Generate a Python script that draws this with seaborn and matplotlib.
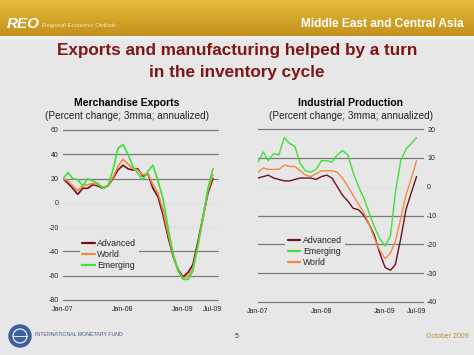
import pandas as pd
import numpy as np
import seaborn as sns
import matplotlib.pyplot as plt
from matplotlib.patches import Circle

# Monthly data, Jan-07 to Jul-09
months = pd.date_range('2007-01-01', '2009-07-01', freq='MS')

# Merchandise exports (percent change; 3mma; annualized)
exp_advanced = [20, 16, 12, 7, 12, 12, 15, 14, 12, 14, 20, 27, 31, 28, 27, 28, 22, 24,
                12, 5, -10, -28, -44, -55, -61, -57, -51, -32, -12, 8, 20]
exp_world = [20, 18, 14, 10, 14, 15, 16, 15, 13, 14, 21, 30, 36, 32, 28, 27, 23, 24,
             15, 8, -6, -25, -43, -56, -62, -60, -54, -35, -14, 10, 23]
exp_emerging = [20, 25, 20, 19, 14, 20, 18, 16, 12, 14, 27, 45, 48, 40, 30, 24, 19, 26,
                31, 18, 3, -20, -42, -56, -63, -63, -56, -35, -12, 12, 28]

# Industrial production (percent change; 3mma; annualized)
ip_advanced = [3, 3.5, 4, 3, 2.5, 2, 2, 2.5, 3, 3, 3, 2.5, 3.5, 4, 3, 0, -3, -5, -7.5,
               -8, -10, -13, -17, -23, -28, -29, -27, -18, -8, -2, 3.5]
ip_world = [5, 6.5, 6, 6, 6, 7.5, 7, 7, 5.5, 4, 3.5, 4.5, 5.5, 5.5, 5.5, 5, 3, 0, -3,
            -6, -9, -13, -18, -22, -25, -23, -19, -11, -3, 3, 9]
ip_emerging = [8.5, 12, 9, 11.5, 11, 17, 15, 14, 8, 5.5, 5, 6, 9, 9, 8.5, 11, 12.5, 11,
               5, 0, -4, -9, -14, -18, -20.5, -17, -2, 9, 13, 15, 17]

exp_ticks = [60, 40, 20, 0, -20, -40, -60, -80]
ip_ticks = [20, 10, 0, -10, -20, -30, -40]
x_tick_dates = ['2007-01-01', '2008-01-01', '2009-01-01', '2009-07-01']
x_tick_labels = ['Jan-07', 'Jan-08', 'Jan-09', 'Jul-09']

colors = {'Advanced': '#6e1020', 'World': '#f28a45', 'Emerging': '#3fe03a'}

exports = pd.DataFrame({'date': np.tile(months, 3),
                        'value': exp_advanced + exp_world + exp_emerging,
                        'series': ['Advanced'] * 31 + ['World'] * 31 + ['Emerging'] * 31})
prod = pd.DataFrame({'date': np.tile(months, 3),
                     'value': ip_advanced + ip_emerging + ip_world,
                     'series': ['Advanced'] * 31 + ['Emerging'] * 31 + ['World'] * 31})

sns.set_theme(style='white')
plt.rcParams['font.family'] = ['Liberation Sans', 'DejaVu Sans']
plt.rcParams['axes.unicode_minus'] = False

W, H = 474, 355
fig = plt.figure(figsize=(W / 100, H / 100), dpi=100)
fig.patch.set_facecolor('#e7e7e7')
bg = '#e7e7e7'


def px_axes(x0, y0, x1, y1):
    return fig.add_axes([x0 / W, 1 - y1 / H, (x1 - x0) / W, (y1 - y0) / H])


# header band
hdr = px_axes(0, 0, W, 36)
grad = np.linspace(0, 1, 50).reshape(-1, 1)
hdr.imshow(grad, aspect='auto', extent=[0, 1, 0, 1],
           cmap=sns.blend_palette(['#e4bd3e', '#d4a62a', '#c4911e'], as_cmap=True))
hdr.set_axis_off()
lite = px_axes(0, 36, W, 42)
lite.imshow(grad, aspect='auto', extent=[0, 1, 0, 1],
            cmap=sns.blend_palette(['#f2f2f2', '#e7e7e7'], as_cmap=True))
lite.set_axis_off()

fig.text(7 / W, 1 - 24 / H, 'REO', color='white', fontsize=11, fontweight='bold',
         fontstyle='italic', va='center')
fig.text(42 / W, 1 - 26 / H, 'Regional Economic Outlook', color='#f6e7b8', fontsize=4.3,
         va='center')
fig.text(464 / W, 1 - 24 / H, 'Middle East and Central Asia', color='white', fontsize=8.6,
         fontweight='bold', ha='right', va='center')

# title
fig.text(0.5, 1 - 50 / H, 'Exports and manufacturing helped by a turn', color='#801515',
         fontsize=12.3, fontweight='bold', ha='center', va='center')
fig.text(0.5, 1 - 72 / H, 'in the inventory cycle', color='#801515',
         fontsize=12.3, fontweight='bold', ha='center', va='center')

fig.text(127 / W, 1 - 103 / H, 'Merchandise Exports', fontsize=7.5, fontweight='bold',
         ha='center', va='center', color='black')
fig.text(127 / W, 1 - 116 / H, '(Percent change; 3mma; annualized)', fontsize=7.2,
         ha='center', va='center', color='#222222')
fig.text(351 / W, 1 - 103 / H, 'Industrial Production', fontsize=7.5, fontweight='bold',
         ha='center', va='center', color='black')
fig.text(351 / W, 1 - 116 / H, '(Percent change; 3mma; annualized)', fontsize=7.2,
         ha='center', va='center', color='#222222')


def style_axes(ax, ticks, faint, side):
    ax.set_facecolor(bg)
    for t in ticks:
        c = '#e2e2e2' if t in faint else '#7a7a7a'
        ax.axhline(t, color=c, lw=0.9, zorder=0, clip_on=False)
    for s in ax.spines.values():
        s.set_visible(False)
    ax.set_yticks(ticks)
    ax.set_xticks(pd.to_datetime(x_tick_dates))
    ax.set_xticklabels(x_tick_labels)
    ax.tick_params(axis='both', length=0, labelsize=5, colors='#222222')
    ax.tick_params(axis='x', pad=4.5)
    ax.tick_params(axis='y', pad=3)
    if side == 'right':
        ax.yaxis.tick_right()
    ax.set_xlabel('')
    ax.set_ylabel('')
    ax.grid(False)


# left chart: merchandise exports
ax1 = px_axes(63, 130, 218, 300)
sns.lineplot(data=exports, x='date', y='value', hue='series',
             hue_order=['Advanced', 'World', 'Emerging'], palette=colors,
             linewidth=1.2, ax=ax1)
ax1.set_ylim(-80, 60)
ax1.set_xlim(pd.Timestamp('2007-01-01'), pd.Timestamp('2009-08-01'))
style_axes(ax1, exp_ticks, [0, -20], 'left')
leg = ax1.legend(loc='upper left', bbox_to_anchor=(0.08, 0.40), fontsize=6.3,
                 frameon=True, facecolor=bg, edgecolor='none', framealpha=1,
                 handlelength=1.4, handletextpad=0.3, labelspacing=0.25,
                 borderpad=0.3)
for line in leg.get_lines():
    line.set_linewidth(1.6)

# right chart: industrial production
ax2 = px_axes(258, 129, 423, 302)
sns.lineplot(data=prod, x='date', y='value', hue='series',
             hue_order=['Advanced', 'Emerging', 'World'], palette=colors,
             linewidth=1.0, ax=ax2)
ax2.set_ylim(-40, 20)
ax2.set_xlim(pd.Timestamp('2007-01-01'), pd.Timestamp('2009-08-07'))
style_axes(ax2, ip_ticks, [0], 'right')
leg = ax2.legend(loc='upper left', bbox_to_anchor=(0.14, 0.42), fontsize=6.3,
                 frameon=True, facecolor=bg, edgecolor='none', framealpha=1,
                 handlelength=1.4, handletextpad=0.3, labelspacing=0.2,
                 borderpad=0.3)
for line in leg.get_lines():
    line.set_linewidth(1.6)

# footer
foot = px_axes(0, 320, W, H)
foot.set_xlim(0, W)
foot.set_ylim(H, 320)
foot.set_axis_off()
foot.add_patch(Circle((20, 336), 11, color='#3d5f9e'))
foot.add_patch(Circle((20, 336), 7, fill=False, ec='white', lw=0.8))
foot.plot([13, 27], [336, 336], color='white', lw=0.6)
fig.text(35 / W, 1 - 335 / H, 'INTERNATIONAL MONETARY FUND', fontsize=3.8,
         color='#4b5c8c', va='center')
fig.text(237 / W, 1 - 337 / H, '5', fontsize=5, va='center', ha='center', color='#333333')
fig.text(469 / W, 1 - 337 / H, 'October 2009', fontsize=5, va='center', ha='right',
         color='#b39435')

fig.savefig('out.png', dpi=100, facecolor=fig.get_facecolor())
